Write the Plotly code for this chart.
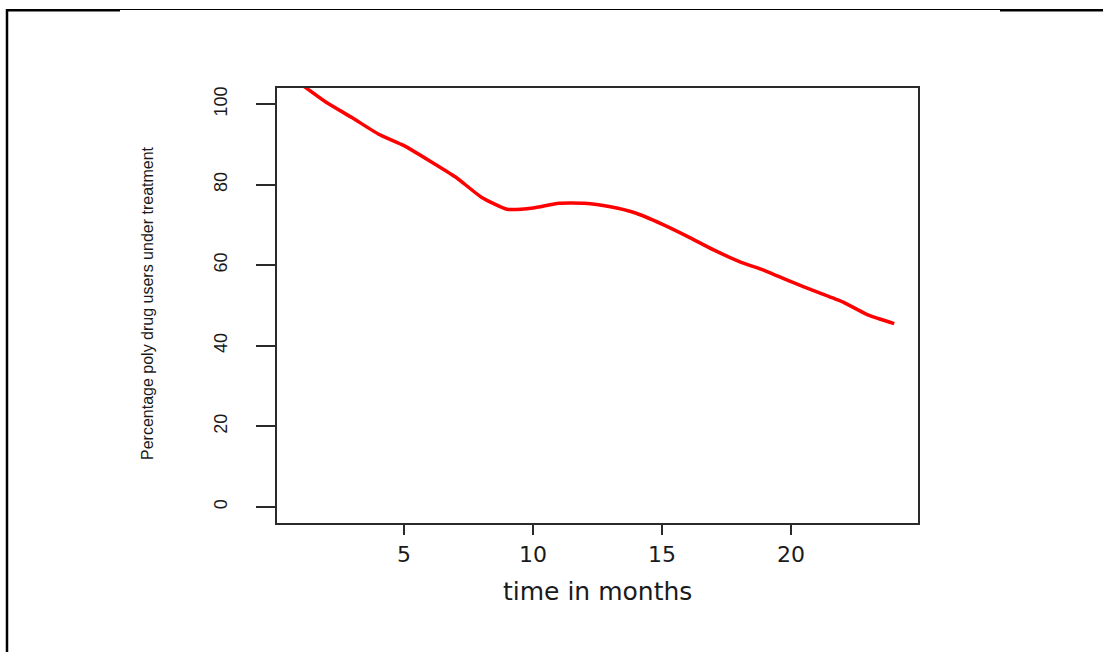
import plotly.graph_objects as go

# Monthly share of poly drug users still under treatment
months = list(range(1, 25))
pct_in_treatment = [105.0, 100.4, 96.6, 92.6, 89.7, 85.9, 81.9, 76.9, 73.9, 74.2,
                    75.4, 75.4, 74.5, 72.9, 70.2, 67.1, 63.8, 60.9, 58.6, 55.9,
                    53.4, 50.9, 47.6, 45.5]

x_ticks = [5, 10, 15, 20]
y_ticks = [0, 20, 40, 60, 80, 100]

W, H = 1103, 652
L, R, T, B = 277, 918, 88, 523
pw, ph = R - L, B - T


def px(xp):
    return (xp - L) / pw


def py(yp):
    return (B - yp) / ph


fig = go.Figure()
fig.add_trace(go.Scatter(
    x=months, y=pct_in_treatment, mode="lines",
    line=dict(color="#ff0000", width=3.5, shape="spline", smoothing=0.5),
    hoverinfo="skip", showlegend=False,
))

axis_common = dict(
    showgrid=False, zeroline=False, showline=True, mirror=True,
    linecolor="#2a2a2a", linewidth=1.5,
    ticks="outside", tickcolor="#2a2a2a", tickwidth=1.5,
)

fig.update_xaxes(
    range=[0.08, 24.92], tickvals=x_ticks, ticklen=10,
    tickfont=dict(family="DejaVu Sans", size=22, color="#1a1a1a"),
    ticklabelstandoff=1,
    **axis_common,
)
fig.update_yaxes(
    range=[-4, 104], tickvals=y_ticks, ticklen=19, tickangle=-90,
    tickfont=dict(family="Liberation Sans", size=18, color="#1a1a1a"),
    ticklabelstandoff=22,
    **axis_common,
)

fig.add_annotation(
    text="time in months", xref="paper", yref="paper",
    x=px(597), y=py(591.5), xanchor="center", yanchor="middle",
    showarrow=False,
    font=dict(family="DejaVu Sans", size=25, color="#1a1a1a"),
)
fig.add_annotation(
    text="Percentage poly drug users under treatment", xref="paper", yref="paper",
    x=px(147), y=py(303), xanchor="center", yanchor="middle", textangle=-90,
    showarrow=False,
    font=dict(family="Liberation Sans", size=16, color="#1a1a1a"),
)

# page frame lines
frame = dict(type="line", xref="paper", yref="paper", layer="above")
fig.add_shape(x0=px(6), x1=px(120), y0=py(10.3), y1=py(10.3),
              line=dict(color="black", width=2.5), **frame)
fig.add_shape(x0=px(120), x1=px(1000), y0=py(9.5), y1=py(9.5),
              line=dict(color="black", width=1), **frame)
fig.add_shape(x0=px(1000), x1=px(1103), y0=py(10.3), y1=py(10.3),
              line=dict(color="black", width=2.5), **frame)
fig.add_shape(x0=px(7), x1=px(7), y0=py(9), y1=py(652),
              line=dict(color="black", width=2.5), **frame)

fig.update_layout(
    width=W, height=H,
    margin=dict(l=L, r=W - R, t=T, b=H - B, pad=0),
    paper_bgcolor="white", plot_bgcolor="white",
)

fig.write_html("out.html")
